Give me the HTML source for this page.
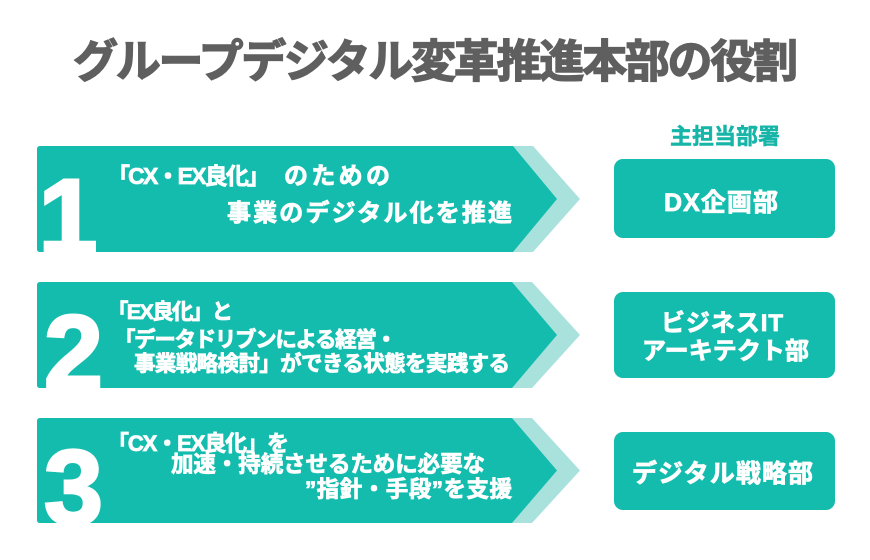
<!DOCTYPE html>
<html>
<head>
<meta charset="utf-8">
<style>
  html, body { margin:0; padding:0; background:#ffffff; }
  body { width:870px; height:560px; overflow:hidden; }
  svg { display:block; }
  .t { font-family:"Liberation Sans","Noto Sans CJK JP",sans-serif; font-weight:bold; }
  .w { fill:#ffffff; stroke:#ffffff; stroke-width:0.8; }
  .num { font-family:"Liberation Sans",sans-serif; font-weight:bold; fill:#ffffff; stroke:#ffffff; stroke-width:3; }
</style>
</head>
<body>
<svg width="870" height="560" viewBox="0 0 870 560" xmlns="http://www.w3.org/2000/svg">
  <defs>
    <clipPath id="c1"><path d="M40 146 H513 L557 199 L513 252 H40 Q37 252 37 249 V149 Q37 146 40 146 Z"/></clipPath>
    <clipPath id="c2"><path d="M40 282 H512 L557 335 L512 388 H40 Q37 388 37 385 V285 Q37 282 40 282 Z"/></clipPath>
    <clipPath id="c3"><path d="M40 418 H512 L557 470.5 L512 523 H40 Q37 523 37 520 V421 Q37 418 40 418 Z"/></clipPath>
  </defs>

  <!-- Title -->
  <text class="t" x="73" y="77" font-size="45" font-weight="900" fill="#5f5f5f" stroke="#5f5f5f" stroke-width="1.4" textLength="725" lengthAdjust="spacing">グループデジタル変革推進本部の役割</text>

  <!-- Banner 1 -->
  <polygon points="500,146 533,146 580,199 533,252 500,252" fill="#a9e1dd"/>
  <path d="M40 146 H513 L557 199 L513 252 H40 Q37 252 37 249 V149 Q37 146 40 146 Z" fill="#14bcae"/>
  <g clip-path="url(#c1)"><text class="num" x="68" y="253" font-size="106" text-anchor="middle">1</text></g>
  <text class="t w" x="107" y="184" font-size="23" textLength="163" lengthAdjust="spacing">「CX・EX良化」</text>
  <text class="t w" x="284" y="184" font-size="24" textLength="106" lengthAdjust="spacing">のための</text>
  <text class="t w" x="227" y="221" font-size="24" textLength="285" lengthAdjust="spacing">事業のデジタル化を推進</text>

  <!-- Banner 2 -->
  <polygon points="500,282 532,282 580,335 532,388 500,388" fill="#a9e1dd"/>
  <path d="M40 282 H512 L557 335 L512 388 H40 Q37 388 37 385 V285 Q37 282 40 282 Z" fill="#14bcae"/>
  <g clip-path="url(#c2)"><text class="num" x="73.5" y="389" font-size="106" text-anchor="middle">2</text></g>
  <text class="t w" x="107" y="319" font-size="21.5" textLength="126" lengthAdjust="spacing">「EX良化」と</text>
  <text class="t w" x="114" y="347" font-size="21.5" textLength="283" lengthAdjust="spacing">「データドリブンによる経営・</text>
  <text class="t w" x="134" y="371" font-size="21.5" textLength="376" lengthAdjust="spacing">事業戦略検討」ができる状態を実践する</text>

  <!-- Banner 3 -->
  <polygon points="500,418 532,418 580,470.5 532,523 500,523" fill="#a9e1dd"/>
  <path d="M40 418 H512 L557 470.5 L512 523 H40 Q37 523 37 520 V421 Q37 418 40 418 Z" fill="#14bcae"/>
  <g clip-path="url(#c3)"><text class="num" x="73.5" y="524" font-size="106" text-anchor="middle">3</text></g>
  <text class="t w" x="107" y="451" font-size="22" textLength="182" lengthAdjust="spacing">「CX・EX良化」を</text>
  <text class="t w" x="171" y="472" font-size="22.5" textLength="314" lengthAdjust="spacing">加速・持続させるために必要な</text>
  <text class="t w" x="305" y="497" font-size="22.5" textLength="207" lengthAdjust="spacing">”指針・手段”を支援</text>

  <!-- Right column -->
  <text class="t" x="670" y="144" font-size="22" fill="#17b5a8" stroke="#17b5a8" stroke-width="0.5" textLength="110" lengthAdjust="spacing">主担当部署</text>

  <rect x="614" y="159" width="221" height="79" rx="9" ry="9" fill="#14bcae"/>
  <text class="t w" x="664" y="211" font-size="25" textLength="114" lengthAdjust="spacing">DX企画部</text>

  <rect x="614" y="292" width="221" height="86" rx="9" ry="9" fill="#14bcae"/>
  <text class="t w" x="661" y="331" font-size="24" textLength="122" lengthAdjust="spacing">ビジネスIT</text>
  <text class="t w" x="642" y="359" font-size="24" textLength="167" lengthAdjust="spacing">アーキテクト部</text>

  <rect x="614" y="432" width="221" height="78" rx="9" ry="9" fill="#14bcae"/>
  <text class="t w" x="632" y="482" font-size="25" textLength="181" lengthAdjust="spacing">デジタル戦略部</text>
</svg>
</body>
</html>
